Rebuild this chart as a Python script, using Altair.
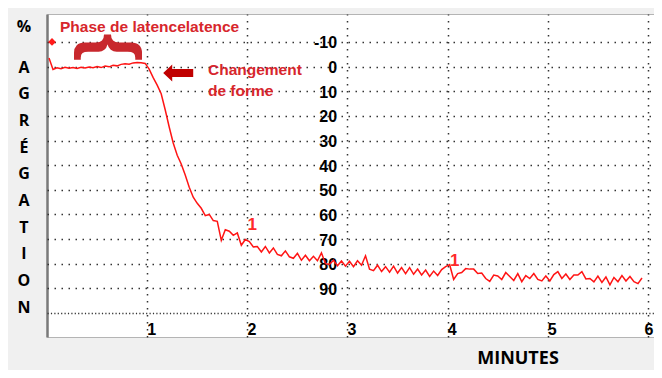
import altair as alt
import pandas as pd

# ---- curve data (minutes, % aggregation) ----
time_min = [
    0.02, 0.06, 0.10, 0.14, 0.18, 0.22, 0.26, 0.30, 0.34, 0.38,
    0.42, 0.46, 0.50, 0.54, 0.58, 0.62, 0.66, 0.70, 0.74, 0.78,
    0.82, 0.86, 0.90, 0.94, 0.98, 1.02, 1.06, 1.10, 1.14, 1.18,
    1.22, 1.26, 1.30, 1.34, 1.38, 1.42, 1.46, 1.50, 1.54, 1.58,
    1.62, 1.66, 1.70, 1.74, 1.78, 1.82, 1.86, 1.90, 1.94, 1.98,
    2.02, 2.06, 2.10, 2.14, 2.18, 2.22, 2.26, 2.30, 2.34, 2.38,
    2.42, 2.46, 2.50, 2.54, 2.58, 2.62, 2.66, 2.70, 2.74, 2.78,
    2.82, 2.86, 2.90, 2.94, 2.98, 3.02, 3.06, 3.10, 3.14, 3.18,
    3.22, 3.26, 3.30, 3.34, 3.38, 3.42, 3.46, 3.50, 3.54, 3.58,
    3.62, 3.66, 3.70, 3.74, 3.78, 3.82, 3.86, 3.90, 3.94, 3.98,
    4.02, 4.06, 4.10, 4.14, 4.18, 4.22, 4.26, 4.30, 4.34, 4.38,
    4.42, 4.46, 4.50, 4.54, 4.58, 4.62, 4.66, 4.70, 4.74, 4.78,
    4.82, 4.86, 4.90, 4.94, 4.98, 5.02, 5.06, 5.10, 5.14, 5.18,
    5.22, 5.26, 5.30, 5.34, 5.38, 5.42, 5.46, 5.50, 5.54, 5.58,
    5.62, 5.66, 5.70, 5.74, 5.78, 5.82, 5.86, 5.90, 5.94,
]
aggregation_pct = [
    -3.5, 1.2, 0.5, 0.9, 0.3, 0.7, 0.4, 0.8, 0.3, 0.6,
    0.2, 0.5, 0.0, 0.4, -0.2, 0.1, -0.5, -0.3, -0.9, -1.2,
    -1.0, -1.5, -1.7, -1.6, -1.3, 1.0, 4.5, 7.5, 11.0, 17.5,
    24.5, 31.0, 36.0, 39.5, 44.0, 49.0, 53.0, 55.5, 57.5, 60.5,
    60.0, 62.5, 62.8, 70.5, 66.2, 66.8, 68.5, 67.5, 72.5, 70.2,
    71.0, 73.2, 73.0, 75.2, 73.0, 75.6, 73.6, 76.2, 76.8, 74.8,
    77.2, 77.8, 75.8, 78.6, 76.6, 78.8, 77.0, 78.8, 75.6, 80.0,
    80.3, 78.6, 80.8, 78.9, 81.0, 79.0, 81.2, 78.8, 80.6, 76.8,
    82.2, 82.8, 80.6, 83.2, 81.2, 83.4, 81.0, 83.8, 81.6, 84.0,
    81.6, 84.3, 82.2, 84.6, 82.6, 85.2, 83.0, 84.8, 82.4, 81.2,
    80.4, 86.4, 84.0, 83.6, 82.0, 82.2, 82.2, 84.0, 83.8, 86.0,
    87.2, 84.6, 85.0, 86.4, 83.6, 85.2, 86.8, 84.0, 87.3, 84.8,
    86.0, 84.0, 86.4, 87.0, 85.0, 87.0, 84.4, 83.2, 86.0, 84.2,
    86.4, 84.6, 84.6, 83.2, 86.2, 86.0, 87.4, 85.0, 87.6, 85.4,
    88.6, 85.6, 87.3, 84.8, 87.0, 85.2, 87.3, 88.1, 85.8,
]

# ---- axes ----
x_ticks = [0, 1, 2, 3, 4, 5, 6]
y_ticks = [-10, 0, 10, 20, 30, 40, 50, 60, 70, 80, 90, 100]
X_DOMAIN = [0, 6.06]
Y_DOMAIN = [-21.35, 109.75]

# ---- side title letters ----
side_letters = ["%", "A", "G", "R", "É", "G", "A", "T", "I", "O", "N"]
side_letters_x = [-0.23, -0.23, -0.23, -0.23, -0.23, -0.23, -0.23, -0.23, -0.23, -0.23, -0.23]
side_letters_y = [-15.9, 0.4, 11.2, 22.0, 32.9, 43.7, 54.6, 65.4, 76.2, 87.0, 97.9]

# ---- annotations ----
note_text = ["Phase de latencelatence", "Changement", "de forme"]
note_x = [0.13, 1.607, 1.607]
note_y = [-16.1, 1.5, 10.1]

curve_labels = ["1", "1"]
curve_label_x = [2.05, 4.07]
curve_label_y = [64.3, 79.0]

brace_glyph = ["{"]
brace_x = [0.64]
brace_y = [-7.8]

diamond_x = [0.05]
diamond_y = [-10]

arrow_x = [1.31]
arrow_y = [2.6]
ARROW_PATH = "M -1 0 L -0.4 -0.57 L -0.4 -0.27 L 1 -0.27 L 1 0.27 L -0.4 0.27 L -0.4 0.57 Z"

xscale = alt.Scale(domain=X_DOMAIN, nice=False, zero=False)
yscale = alt.Scale(domain=Y_DOMAIN, nice=False, zero=False, reverse=True)

x_axis = alt.Axis(
    values=x_ticks,
    labelExpr="datum.value == 0 ? '' : datum.label",
    offset=-24, domain=False, ticks=False,
    labelPadding=8,
    labelAlign={"condition": {"test": "datum.value == 6", "value": "right"}, "value": "center"},
    labelOffset={"condition": {"test": "datum.value == 6", "value": 5}, "value": 4},
    labelFlush=False,
    labelFont="Liberation Sans", labelFontSize=16, labelFontWeight="bold", labelColor="black",
    title="MINUTES", titleFont="Open Sans", titleFontSize=18, titleFontWeight="bold",
    titleColor="black", titleX=470.5, titleY=45, titleAlign="center", titleBaseline="middle",
    grid=True,
    gridColor={"condition": {"test": "datum.value == 0", "value": "#7a7a7a"}, "value": "#333333"},
    gridDash={"condition": {"test": "datum.value == 0", "value": [10, 0]}, "value": [1.5, 5.5]},
    gridWidth={"condition": {"test": "datum.value == 0", "value": 2.5}, "value": 1.5},
)
y_axis = alt.Axis(
    values=y_ticks,
    labelExpr="datum.value > 95 ? '' : '' + datum.value",
    orient="left", offset=-300.6, domain=False, ticks=False,
    labelPadding=11, labelOffset=1,
    labelFont="Liberation Sans", labelFontSize=16, labelFontWeight="bold", labelColor="black",
    title=None,
    grid=True, gridColor="#333333",
    gridDash={"condition": {"test": "datum.value == 100", "value": [1.2, 2.2]}, "value": [1.5, 5.5]},
    gridWidth=1.5,
)

curve_df = pd.DataFrame({"t": time_min, "v": aggregation_pct})
curve = alt.Chart(curve_df).mark_line(color="#ff1414", strokeWidth=1.5)

letters_df = pd.DataFrame({"t": side_letters_x, "v": side_letters_y, "label": side_letters})
letters = alt.Chart(letters_df).mark_text(
    font="Open Sans", fontSize=16, fontWeight="bold", color="black", align="center", baseline="middle"
).encode(text="label:N")

notes_df = pd.DataFrame({"t": note_x, "v": note_y, "label": note_text})
notes = alt.Chart(notes_df).mark_text(
    font="Liberation Sans", fontSize=15.5, fontWeight="bold", color="#d7262c", align="left", baseline="middle"
).encode(text="label:N")

cl_df = pd.DataFrame({"t": curve_label_x, "v": curve_label_y, "label": curve_labels})
curve_lbls = alt.Chart(cl_df).mark_text(
    font="Liberation Sans", fontSize=17, fontWeight="bold", color="#ff2a2a", align="center", baseline="middle"
).encode(text="label:N")

brace_df = pd.DataFrame({"t": brace_x, "v": brace_y, "label": brace_glyph})
brace = alt.Chart(brace_df).mark_text(
    font="Liberation Sans", fontSize=72, fontWeight="bold", color="#c8282d", align="center",
    baseline="middle", angle=90
).encode(text="label:N")

diamond_df = pd.DataFrame({"t": diamond_x, "v": diamond_y})
diamond = alt.Chart(diamond_df).mark_point(
    shape="diamond", filled=True, size=60, color="#ff1a1a", opacity=1
)

arrow_df = pd.DataFrame({"t": arrow_x, "v": arrow_y})
arrow = alt.Chart(arrow_df).mark_point(
    shape=ARROW_PATH, filled=True, size=900, color="#c00000", opacity=1
)

chart = alt.layer(curve, letters, notes, curve_lbls, brace, diamond, arrow).encode(
    x=alt.X("t:Q", scale=xscale, axis=x_axis),
    y=alt.Y("v:Q", scale=yscale, axis=y_axis),
).properties(
    width=607, height=323,
    autosize=alt.AutoSizeParams(type="none"),
    padding={"left": 39, "top": 6, "right": 0, "bottom": 33},
).configure(background="#f0f0f0").configure_view(fill="white", stroke="#b4b4b4", strokeWidth=1)

chart.save("out.html", embed_options={"renderer": "svg", "actions": False})
